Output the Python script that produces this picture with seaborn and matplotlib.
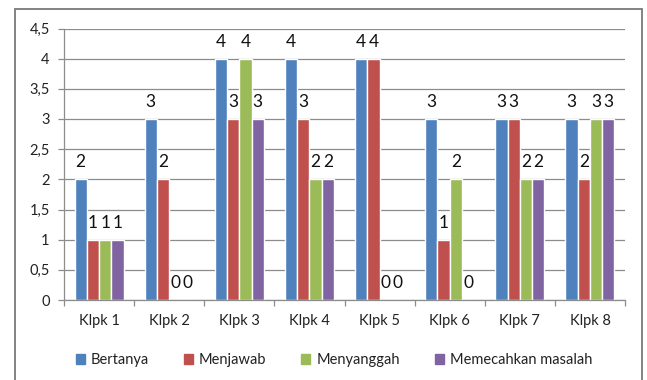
import matplotlib
matplotlib.use("Agg")
import matplotlib.pyplot as plt
import matplotlib.patches as mpatches
from matplotlib.ticker import FuncFormatter, MultipleLocator, FixedLocator
import seaborn as sns
import pandas as pd

categories = ["Klpk 1", "Klpk 2", "Klpk 3", "Klpk 4", "Klpk 5", "Klpk 6", "Klpk 7", "Klpk 8"]
series_names = ["Bertanya", "Menjawab", "Menyanggah", "Memecahkan masalah"]
bertanya = [2, 3, 4, 4, 4, 3, 3, 3]
menjawab = [1, 2, 3, 3, 4, 1, 3, 2]
menyanggah = [1, 0, 4, 2, 0, 2, 2, 3]
memecahkan = [1, 0, 3, 2, 0, 0, 2, 3]
colors = ["#4F81BD", "#C0504D", "#9BBB59", "#8064A2"]

rows = []
for name, vals in zip(series_names, [bertanya, menjawab, menyanggah, memecahkan]):
    for c, v in zip(categories, vals):
        rows.append({"Kelompok": c, "Seri": name, "Nilai": v})
df = pd.DataFrame(rows)

sns.set_style("white")
plt.rcParams['font.family'] = ['Lato', 'DejaVu Sans']

fig = plt.figure(figsize=(6.47, 3.80), dpi=100)
ax = fig.add_axes([64 / 647, 1 - 300 / 380, 561 / 647, 271.5 / 380])

sns.barplot(data=df, x="Kelompok", y="Nilai", hue="Seri", order=categories,
            hue_order=series_names, palette=colors, width=0.70, ax=ax,
            saturation=1, errorbar=None, legend=False)

for cont in ax.containers:
    ax.bar_label(cont, fmt="%g", padding=6.5, fontsize=12.5, color="#111111")

ax.set_ylim(0, 4.5)
ax.set_xlim(-0.5, 7.5)
ax.yaxis.set_major_locator(MultipleLocator(0.5))
ax.yaxis.set_major_formatter(FuncFormatter(lambda v, p: ("%g" % v).replace(".", ",")))
ax.grid(axis="y", color="#8C8C8C", linewidth=0.9)
ax.set_axisbelow(True)
ax.set_xlabel("")
ax.set_ylabel("")
for s in ["top", "right"]:
    ax.spines[s].set_visible(False)
for s in ["left", "bottom"]:
    ax.spines[s].set_color("#8C8C8C")
    ax.spines[s].set_linewidth(0.9)
ax.tick_params(axis="y", length=4.3, width=0.9, color="#8C8C8C", labelsize=10.5,
               pad=6, left=True, labelcolor="#222222")
ax.tick_params(axis="x", which="major", length=0, labelsize=10.5, pad=10,
               labelcolor="#222222")
ax.xaxis.set_minor_locator(FixedLocator([i - 0.5 for i in range(len(categories) + 1)]))
ax.tick_params(axis="x", which="minor", length=4, width=0.9, color="#8C8C8C", bottom=True)

handles = [mpatches.Patch(color=c, label=n) for c, n in zip(colors, series_names)]
fig.legend(handles=handles, loc="center", bbox_to_anchor=(334 / 647, 1 - 360 / 380), ncol=4,
           frameon=False, fontsize=10.5, handlelength=0.62, handleheight=0.62,
           handletextpad=0.4, columnspacing=2.4, labelcolor="#222222")

border = mpatches.Rectangle((15 / 647, -0.05), 627 / 647, 1.05 - 9.5 / 380,
                            transform=fig.transFigure, fill=False,
                            edgecolor="#7A7A7A", linewidth=1.3)
fig.patches.append(border)

fig.savefig("out.png", dpi=100)
